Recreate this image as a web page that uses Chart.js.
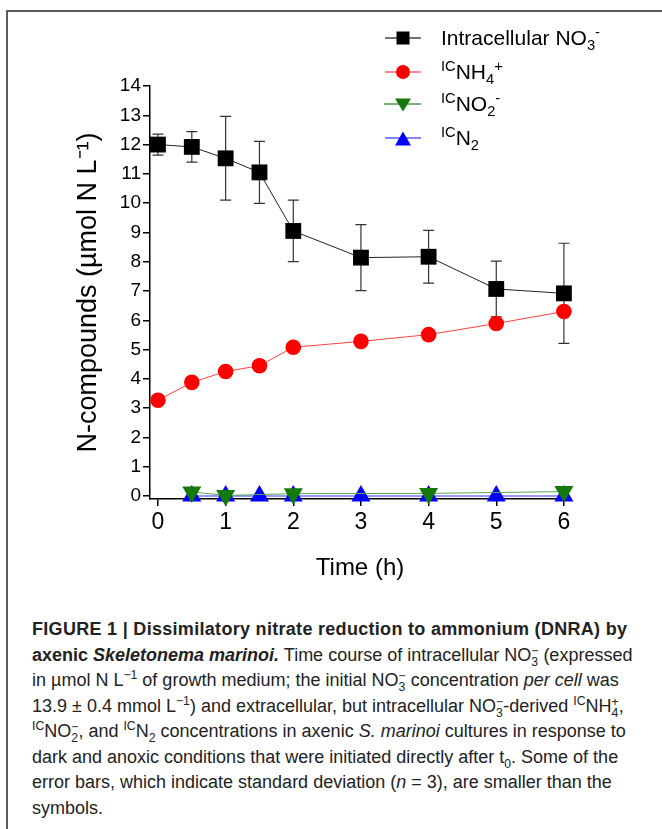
<!DOCTYPE html>
<html lang="en">
<head>
<meta charset="UTF-8">
<title>DNRA by axenic Skeletonema marinoi</title>
<script src="https://cdn.jsdelivr.net/npm/chart.js"></script>
<style>
  body { margin: 0; background: #fff; font-family: "Liberation Sans", Arial, sans-serif; }
  .figure { position: relative; width: 662px; height: 829px; overflow: hidden; }
  .frame { position: absolute; left: 6px; top: 10px; width: 700px; height: 900px;
           border-top: 2px solid #5c5c5c; border-left: 2px solid #5c5c5c; }
  #chart { position: absolute; left: 0; top: 0; }
  .legend .row { position: absolute; left: 384px; height: 28px; display: flex; align-items: center; }
  .legend svg { width: 40px; height: 28px; }
  .legend .lab { position: absolute; left: 57px; font-size: 21px; color: #000; white-space: nowrap; line-height: 28px; }
  .legend sub, .legend sup { font-size: 0.7em; line-height: 0; }
  .caption { position: absolute; left: 32px; top: 617px; font-family: "Liberation Sans Narrow", "Arial Narrow", "Liberation Sans", sans-serif;
             font-size: 18px; line-height: 25.5px; color: #222; white-space: nowrap; }
  .caption .l1 { letter-spacing: 0.3px; }
  .caption sub, .caption sup { font-size: 0.68em; line-height: 0; }
  .ss { display: inline-block; vertical-align: -0.42em; font-size: 0.68em; line-height: 0.9em; }
  .ss span { display: block; }
</style>
</head>
<body>
<div class="figure">
  <div class="frame"></div>
  <canvas id="chart" width="662" height="600"></canvas>

  <div class="legend">
    <div class="row" style="top:24px">
      <svg viewBox="0 0 40 28"><line x1="1" y1="14" x2="37" y2="14" stroke="#444" stroke-width="1.5"/><rect x="12.5" y="7.5" width="13" height="13" fill="#000"/></svg>
      <span class="lab">Intracellular NO<sub>3</sub><sup>-</sup></span>
    </div>
    <div class="row" style="top:58px">
      <svg viewBox="0 0 40 28"><line x1="1" y1="14" x2="37" y2="14" stroke="#ff6060" stroke-width="1.5"/><circle cx="19" cy="14" r="7" fill="#ff0000"/></svg>
      <span class="lab"><sup>IC</sup>NH<sub>4</sub><sup>+</sup></span>
    </div>
    <div class="row" style="top:90px">
      <svg viewBox="0 0 40 28"><line x1="0" y1="14" x2="37" y2="14" stroke="#4a9a4a" stroke-width="1.5"/><polygon points="11,8.5 27,8.5 19,21.5" fill="#137a0a"/></svg>
      <span class="lab"><sup>IC</sup>NO<sub>2</sub><sup>-</sup></span>
    </div>
    <div class="row" style="top:124px">
      <svg viewBox="0 0 40 28"><line x1="1" y1="14" x2="37" y2="14" stroke="#5a5aff" stroke-width="1.5"/><polygon points="11,21.5 27,21.5 19,7.5" fill="#0000ff"/></svg>
      <span class="lab"><sup>IC</sup>N<sub>2</sub></span>
    </div>
  </div>

  <div class="caption">
    <b class="l1">FIGURE 1 | Dissimilatory nitrate reduction to ammonium (DNRA) by</b><br>
    <b>axenic <i>Skeletonema marinoi.</i></b> Time course of intracellular NO<span class="ss"><span>−</span><span>3</span></span> (expressed<br>
    in µmol N L<sup>−1</sup> of growth medium; the initial NO<span class="ss"><span>−</span><span>3</span></span> concentration <i>per cell</i> was<br>
    13.9 ± 0.4 mmol L<sup>−1</sup>) and extracellular, but intracellular NO<span class="ss"><span>−</span><span>3</span></span>-derived <sup>IC</sup>NH<span class="ss"><span>+</span><span>4</span></span>,<br>
    <sup>IC</sup>NO<span class="ss"><span>−</span><span>2</span></span>, and <sup>IC</sup>N<sub>2</sub> concentrations in axenic <i>S. marinoi</i> cultures in response to<br>
    dark and anoxic conditions that were initiated directly after t<sub>0</sub>. Some of the<br>
    error bars, which indicate standard deviation (<i>n</i> = 3), are smaller than the<br>
    symbols.
  </div>
</div>

<script>
// time points (h)
const times = [0, 0.5, 1, 1.5, 2, 3, 4, 5, 6];
// intracellular NO3- and its SD
const no3 = [12.0, 11.92, 11.53, 11.05, 9.05, 8.14, 8.17, 7.07, 6.92];
const no3Sd = [0.36, 0.52, 1.43, 1.06, 1.05, 1.13, 0.9, 0.95, 1.71];
// IC NH4+
const nh4 = [3.27, 3.88, 4.25, 4.45, 5.08, 5.28, 5.51, 5.89, 6.3];
// IC NO2-
const no2Times = [0.5, 1, 2, 4, 6];
const no2 = [0.14, 0.02, 0.08, 0.09, 0.15];
// IC N2
const n2Times = [0.5, 1, 1.5, 2, 3, 4, 5, 6];
const n2 = [0, 0, 0, 0, 0, 0, 0, 0];

const xTicks = [0, 1, 2, 3, 4, 5, 6];
const yTicks = [0, 1, 2, 3, 4, 5, 6, 7, 8, 9, 10, 11, 12, 13, 14];

Chart.defaults.font.family = '"Liberation Sans", Arial, sans-serif';
Chart.defaults.color = '#000';

const pts = (xs, ys) => xs.map((t, i) => ({ x: t, y: ys[i] }));

// error bars for the NO3- series, drawn under the symbols
const errorBars = {
  id: 'errorBars',
  beforeDatasetsDraw(chart) {
    const { ctx, scales: { x, y } } = chart;
    ctx.save();
    ctx.strokeStyle = '#333';
    ctx.lineWidth = 1.2;
    times.forEach((t, i) => {
      const px = x.getPixelForValue(t);
      const top = y.getPixelForValue(no3[i] + no3Sd[i]);
      const bot = y.getPixelForValue(no3[i] - no3Sd[i]);
      ctx.beginPath();
      ctx.moveTo(px, top); ctx.lineTo(px, bot);
      ctx.moveTo(px - 5.5, top); ctx.lineTo(px + 5.5, top);
      ctx.moveTo(px - 5.5, bot); ctx.lineTo(px + 5.5, bot);
      ctx.stroke();
    });
    ctx.restore();
  }
};

new Chart(document.getElementById('chart'), {
  type: 'line',
  data: {
    datasets: [
      {
        label: 'ICNH4+',
        data: pts(times, nh4),
        borderColor: '#ff4040', borderWidth: 1,
        pointStyle: 'circle', pointRadius: 7.8, pointBackgroundColor: '#ff0000', pointBorderWidth: 0,
        clip: false
      },
      {
        label: 'Intracellular NO3-',
        data: pts(times, no3),
        borderColor: '#222', borderWidth: 1,
        pointStyle: 'rect', pointRadius: 11.2, pointBackgroundColor: '#000', pointBorderWidth: 0,
        clip: false
      },
      {
        label: 'ICNO2-',
        data: pts(no2Times, no2),
        borderColor: '#55a555', borderWidth: 1,
        pointStyle: 'triangle', pointRotation: 180, pointRadius: 11, pointBackgroundColor: '#137a0a', pointBorderWidth: 0,
        clip: false
      },
      {
        label: 'ICN2',
        data: pts(n2Times, n2),
        borderColor: '#3030ff', borderWidth: 1,
        pointStyle: 'triangle', pointRadius: 11, pointBackgroundColor: '#0000ff', pointBorderWidth: 0,
        clip: false
      }
    ]
  },
  options: {
    responsive: false,
    devicePixelRatio: 1,
    animation: false,
    layout: { padding: { left: 50, right: 92, top: 86, bottom: 17 } },
    plugins: { legend: { display: false }, tooltip: { enabled: false } },
    scales: {
      x: {
        type: 'linear', min: -0.118, max: 6.09,
        afterBuildTicks: s => { s.ticks = xTicks.map(v => ({ value: v })); },
        afterFit: s => { s.height = 84; },
        grid: { drawOnChartArea: false, tickLength: 7, color: '#000', lineWidth: 1.5 },
        border: { color: '#000', width: 1.5 },
        ticks: { color: '#000', font: { size: 23 }, padding: 3, maxRotation: 0 },
        title: { display: true, text: 'Time (h)', color: '#000', font: { size: 24 }, padding: { top: 0, bottom: 0 } }
      },
      y: {
        type: 'linear', min: -0.102, max: 14,
        afterBuildTicks: s => { s.ticks = yTicks.map(v => ({ value: v })); },
        afterFit: s => { s.width = 100; },
        grid: { drawOnChartArea: false, tickLength: 7, color: '#000', lineWidth: 1.5 },
        border: { color: '#000', width: 1.5 },
        ticks: { color: '#000', font: { size: 19 }, padding: 2 },
        title: { display: true, text: 'N-compounds (µmol N L⁻¹)', color: '#000', font: { size: 27 }, padding: { top: 22, bottom: 0 } }
      }
    }
  },
  plugins: [errorBars]
});
</script>
</body>
</html>
